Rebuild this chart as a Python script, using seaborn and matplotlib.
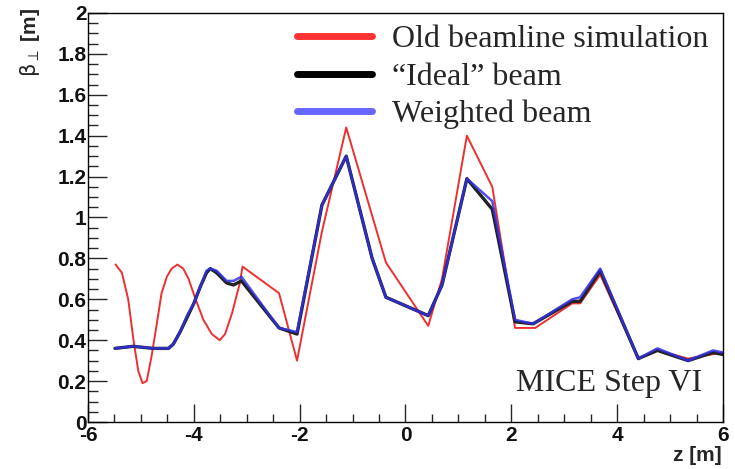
import numpy as np
import pandas as pd
import matplotlib
matplotlib.use("Agg")
import matplotlib.pyplot as plt
from matplotlib.lines import Line2D
from matplotlib.ticker import MultipleLocator, FuncFormatter
import seaborn as sns

# Transverse beta function along the channel, z in metres
z_old = [-5.48, -5.36, -5.24, -5.14, -5.05, -4.97, -4.89, -4.80, -4.70, -4.61,
         -4.51, -4.42, -4.31, -4.20, -4.10, -3.98, -3.82, -3.66, -3.51, -3.41,
         -3.28, -3.13, -3.08, -2.39, -2.05, -1.58, -1.12, -0.37, 0.43, 0.69,
         1.16, 1.64, 2.07, 2.45, 3.15, 3.30, 3.68, 4.40, 4.76, 5.20,
         5.34, 6.00]
beta_old = [0.77, 0.73, 0.60, 0.40, 0.25, 0.19, 0.20, 0.32, 0.48, 0.63,
            0.71, 0.75, 0.77, 0.75, 0.70, 0.61, 0.50, 0.43, 0.40, 0.43,
            0.53, 0.68, 0.76, 0.63, 0.30, 0.93, 1.44, 0.78, 0.47, 0.70,
            1.40, 1.15, 0.46, 0.46, 0.58, 0.58, 0.72, 0.31, 0.35, 0.32,
            0.31, 0.34]

z_beam = [-5.49, -5.15, -4.77, -4.48, -4.39, -4.26, -4.13, -4.00, -3.88, -3.76,
          -3.69, -3.57, -3.38, -3.25, -3.10, -2.39, -2.05, -1.58, -1.12, -0.63,
          -0.37, 0.43, 0.69, 1.16, 1.64, 2.07, 2.41, 3.15, 3.30, 3.68,
          4.40, 4.76, 5.34, 5.81, 6.00]
beta_ideal = [0.36, 0.37, 0.36, 0.36, 0.38, 0.44, 0.51, 0.58, 0.66, 0.73,
              0.75, 0.73, 0.68, 0.67, 0.69, 0.46, 0.43, 1.06, 1.30, 0.80,
              0.61, 0.52, 0.67, 1.19, 1.04, 0.49, 0.48, 0.59, 0.59, 0.74,
              0.31, 0.35, 0.30, 0.34, 0.33]
beta_weighted = [0.36, 0.37, 0.36, 0.36, 0.38, 0.44, 0.52, 0.58, 0.66, 0.74,
                 0.75, 0.74, 0.69, 0.69, 0.71, 0.46, 0.44, 1.06, 1.30, 0.80,
                 0.61, 0.52, 0.67, 1.19, 1.08, 0.50, 0.48, 0.60, 0.61, 0.75,
                 0.31, 0.36, 0.30, 0.35, 0.34]

labels = ["Old beamline simulation", "\u201cIdeal\u201d beam", "Weighted beam"]

df_old = pd.DataFrame({"z": z_old, "beta": beta_old})
df_ideal = pd.DataFrame({"z": z_beam, "beta": beta_ideal})
df_w = pd.DataFrame({"z": z_beam, "beta": beta_weighted})

sns.set_theme(style="white")
plt.rcParams["font.family"] = ["Liberation Sans", "DejaVu Sans"]
plt.rcParams["mathtext.fontset"] = "custom"
plt.rcParams["mathtext.rm"] = "DejaVu Sans"
plt.rcParams["mathtext.it"] = "DejaVu Sans"

fig = plt.figure(figsize=(7.35, 4.69), dpi=100)
ax = fig.add_axes([88 / 735, 1 - 422 / 469, (723 - 88) / 735, (422 - 13) / 469])

red = "#ec3030"
blue = "#3030e8"

sns.lineplot(data=df_old, x="z", y="beta", ax=ax, color=red, lw=1.4,
             sort=False, estimator=None)
sns.lineplot(data=df_ideal, x="z", y="beta", ax=ax, color="#222222", lw=2.4,
             sort=False, estimator=None)
sns.lineplot(data=df_w, x="z", y="beta", ax=ax, color=blue, lw=1.8, alpha=0.85,
             sort=False, estimator=None)

ax.set_xlim(-6, 6)
ax.set_ylim(0, 2)
ax.set_xlabel("")
ax.set_ylabel("")

for s in ax.spines.values():
    s.set_color("black")
    s.set_linewidth(1.0)

ax.xaxis.set_major_locator(MultipleLocator(2))
ax.xaxis.set_minor_locator(MultipleLocator(0.5))
ax.yaxis.set_major_locator(MultipleLocator(0.2))
ax.yaxis.set_minor_locator(MultipleLocator(0.05))
fmt = FuncFormatter(lambda v, p: f"{v:g}")
ax.xaxis.set_major_formatter(fmt)
ax.yaxis.set_major_formatter(fmt)

ax.tick_params(axis="x", which="major", direction="in", length=13, width=1,
               bottom=True, top=False, pad=3, labelsize=15)
ax.tick_params(axis="x", which="minor", direction="in", length=6, width=1,
               bottom=True, top=False)
ax.tick_params(axis="y", which="major", direction="in", length=14, width=1,
               left=True, right=False, pad=1, labelsize=15)
ax.tick_params(axis="y", which="minor", direction="in", length=7, width=1,
               left=True, right=False)
for lab in ax.get_xticklabels() + ax.get_yticklabels():
    lab.set_fontweight("bold")
    lab.set_color("#111111")

handles = [Line2D([], [], color="#ff3333", lw=5),
           Line2D([], [], color="black", lw=5),
           Line2D([], [], color="#6666ff", lw=5)]
leg = ax.legend(handles, labels, loc="upper left",
                bbox_to_anchor=(187 / 635, 1.025), frameon=False,
                prop={"family": ["Liberation Serif", "DejaVu Serif"], "size": 23},
                handlelength=2.35, handletextpad=0.6, labelspacing=0.25,
                borderaxespad=0.3)

ax.text(2.09, 0.19, "MICE Step VI", ha="left", va="center",
        fontsize=23, family=["Liberation Serif", "DejaVu Serif"])

fig.text(722 / 735, 1 - 455 / 469, "z [m]", ha="right", va="center",
         fontsize=15, fontweight="bold")
fig.text(30 / 735, 1 - 8 / 469, r"$\beta_{\perp}$ [m]", ha="center",
         va="top", rotation=90, fontsize=15, fontweight="bold")

fig.savefig("out.png", dpi=100)
